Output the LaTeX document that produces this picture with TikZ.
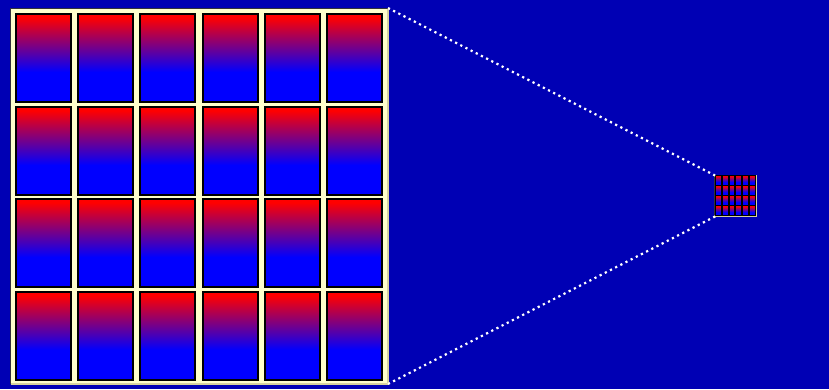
\documentclass[tikz,border=0pt]{standalone}
\usetikzlibrary{calc}
\definecolor{bgblue}{RGB}{0,0,180}
\definecolor{cream}{RGB}{255,255,204}
\definecolor{creamdark}{RGB}{214,210,160}
\definecolor{frameline}{RGB}{50,50,60}
% TikZ maps a path's bounding box onto the middle (25bp..75bp) of the shading
\pgfdeclareverticalshading{redblue}{100bp}{rgb(0bp)=(0,0,1); rgb(42bp)=(0,0,1); rgb(73bp)=(1,0,0); rgb(100bp)=(1,0,0)}
\tikzset{
  cell/.style={shading=redblue, draw=black, line width=1.1pt},
  zoomline/.style={white, line width=2.2pt, dash pattern=on 2.2pt off 3.6pt},
}
% panel drawn with its top-left corner at (0,0), size 378 x 376
\newcommand{\drawpanel}{%
  \fill[cream] (0,0) rectangle (378,376);
  \draw[creamdark, line width=1.5pt] (378,0.5) -- (378,376) -- (0.5,376);
  \draw[frameline, line width=1pt] (0,376) -- (0,0) -- (378,0);
  \foreach \cx in {6,68,130,193,255,317}{
    \foreach \cy in {6,99,191,284}{
      \shade[cell] (\cx,\cy) rectangle ++(55,88);
    }
  }
}
\begin{document}
\begin{tikzpicture}[x=1pt,y=-1pt]
  \fill[bgblue] (0,0) rectangle (829,389);
  \useasboundingbox (0,0) rectangle (829,389);
  \begin{scope}[shift={(10,8)}]
    \drawpanel
  \end{scope}
  \begin{scope}[shift={(714.9,175.1)}, scale=0.1085]
    \drawpanel
  \end{scope}
  \coordinate (bigTR) at (388,8);
  \coordinate (bigBR) at (388,384);
  \coordinate (smallTL) at (716,176);
  \coordinate (smallBL) at (716,216);
  \draw[zoomline] (bigTR) -- (smallTL);
  \draw[zoomline] (bigBR) -- (smallBL);
\end{tikzpicture}
\end{document}
